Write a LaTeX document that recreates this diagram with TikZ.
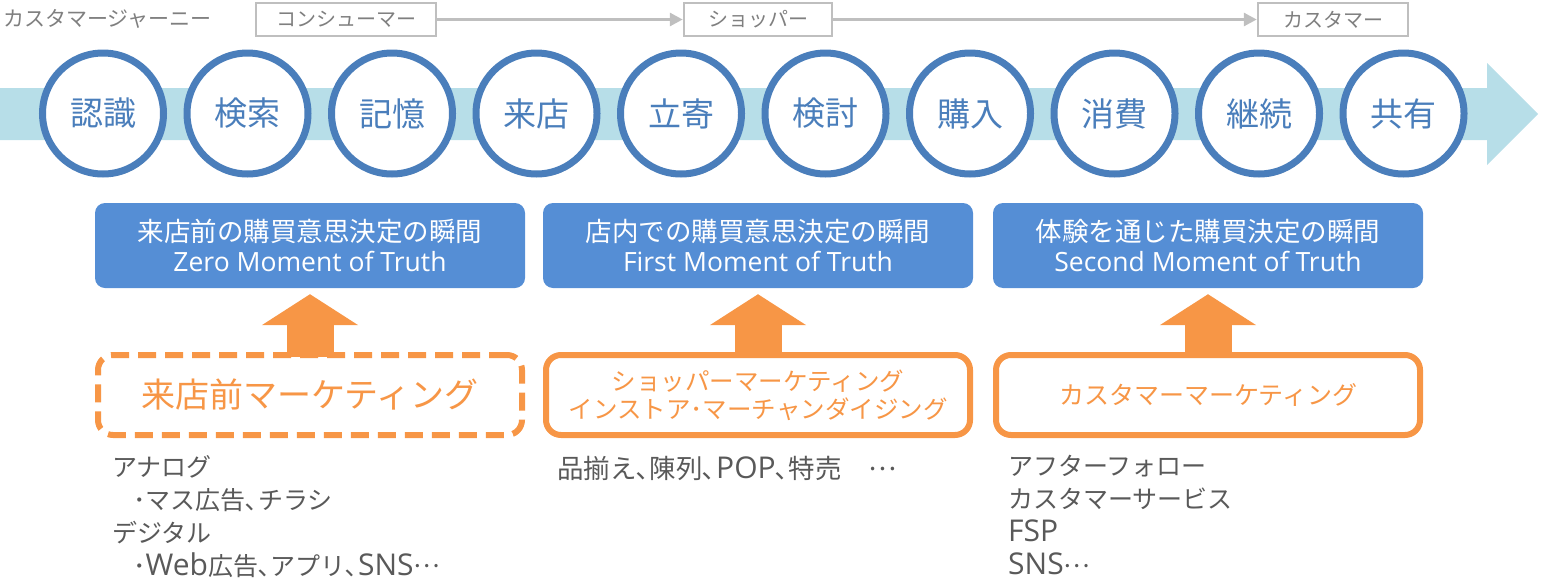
\documentclass[tikz,border=0pt]{standalone}
\usepackage{fontspec}
\setmainfont{Noto Sans CJK JP}
\newfontfamily\lat{Open Sans}
\newcommand{\hc}{､}
\newcommand{\hd}{･}
\newcommand{\md}{\raisebox{0.3em}{…}}
\newcommand{\nl}[1]{{\lat\fontsize{30}{33}\selectfont #1}}
\usetikzlibrary{arrows.meta,shadows}
\definecolor{cblue}{HTML}{4A7EBB}
\definecolor{bandc}{HTML}{B7DEE8}
\definecolor{bblue}{HTML}{558ED5}
\definecolor{orng}{HTML}{F79646}
\definecolor{dgray}{HTML}{595959}
\definecolor{mgray}{HTML}{7F7F7F}
\definecolor{lgray}{HTML}{BFBFBF}
\tikzset{
  stage/.style={circle, draw=cblue, line width=7pt, fill=white, minimum size=121pt, inner sep=0pt,
    text=cblue, font=\fontsize{33}{33}\selectfont,
    drop shadow={shadow xshift=1.5pt, shadow yshift=-3pt, opacity=0.25, fill=black}},
  phase/.style={draw=lgray, line width=2.5pt, fill=white, minimum height=33pt, inner sep=0pt,
    text=mgray, font=\fontsize{20}{20}\selectfont},
  phasearrow/.style={draw=lgray, line width=3pt, -{Triangle[length=13pt,width=13pt]}},
  moment/.style={fill=bblue, rounded corners=10pt, minimum width=430pt, minimum height=85pt,
    inner sep=0pt, text=white, align=center, font=\fontsize{26.5}{30}\selectfont},
  mkt/.style={draw=orng, line width=6pt, fill=white, rounded corners=15pt, minimum width=424pt,
    minimum height=80pt, inner sep=0pt, text=orng, align=center},
  upar/.style={draw=orng, line width=47pt, -{Triangle[length=31pt,width=95pt]}, shorten >=6pt},
  note/.style={anchor=north west, inner sep=0pt, align=left, text=dgray,
    font=\fontsize{25}{33}\selectfont},
}
\begin{document}
\begin{tikzpicture}[x=1pt,y=-1pt]
\useasboundingbox (0,0) rectangle (1541,581);
% header
\node[anchor=west, inner sep=0pt, text=mgray, font=\fontsize{21}{21}\selectfont] (title) at (3,19) {カスタマージャーニー};
\node[phase, minimum width=180pt] (p1) at (346,19.5) {コンシューマー};
\node[phase, minimum width=148pt] (p2) at (758,19.5) {ショッパー};
\node[phase, minimum width=150pt] (p3) at (1333,19.5) {カスタマー};
\draw[phasearrow] (p1.east) -- (p2.west);
\draw[phasearrow] (p2.east) -- (p3.west);
% band
\fill[bandc] (0,88) -- (1487,88) -- (1487,63) -- (1538,114) -- (1487,165) -- (1487,140) -- (0,140) -- cycle;
% stages
\foreach \i/\t in {0/認識,1/検索,2/記憶,3/来店,4/立寄,5/検討,6/購入,7/消費,8/継続,9/共有}{
  \node[stage] (c\i) at ({103+144.5*\i},113.5) {\t};
}
% moments
\node[moment] (z1) at (310,245.5) {来店前の購買意思決定の瞬間\\{\lat\fontsize{26.5}{30}\selectfont Zero Moment of Truth}};
\node[moment] (z2) at (758,245.5) {店内での購買意思決定の瞬間\\{\lat\fontsize{26.5}{30}\selectfont First Moment of Truth}};
\node[moment] (z3) at (1208,245.5) {体験を通じた購買決定の瞬間\\{\lat\fontsize{26.5}{30}\selectfont Second Moment of Truth}};
% marketing boxes
\node[mkt, dash pattern=on 18pt off 9pt, font=\fontsize{34}{34}\selectfont] (m1) at (310,395) {来店前マーケティング};
\node[mkt, font=\fontsize{24.5}{28}\selectfont] (m2) at (758,395) {ショッパーマーケティング\\インストア\hd マーチャンダイジング};
\node[mkt, font=\fontsize{25}{28}\selectfont] (m3) at (1208,395) {カスタマーマーケティング};
% arrow feet on box tops
\coordinate (a1) at (310,357);
\coordinate (a2) at (758,357);
\coordinate (a3) at (1208,357);
\draw[upar] (a1) -- (z1.south);
\draw[upar] (a2) -- (z2.south);
\draw[upar] (a3) -- (z3.south);
% notes
\node[note] (n1) at (112,455) {アナログ\\\hspace{21pt}\hd マス広告\hc チラシ\\デジタル\\\hspace{21pt}\hd \nl{Web}広告\hc アプリ\hc \nl{SNS}\md};
\node[note, font=\fontsize{26.5}{33}\selectfont] (n2) at (557,456) {品揃え\hc 陳列\hc \nl{POP}\hc 特売　\md};
\node[note] (n3) at (1008,455) {アフターフォロー\\カスタマーサービス\\\nl{FSP}\\\nl{SNS}\md};
\end{tikzpicture}
\end{document}
